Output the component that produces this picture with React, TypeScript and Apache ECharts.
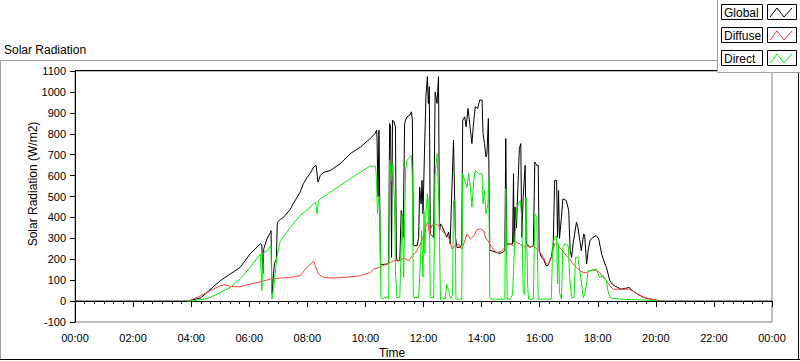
import React, { useEffect, useRef } from "react";
import * as echarts from "echarts";

// x values are minutes since midnight
const xTickLabels = ["00:00", "02:00", "04:00", "06:00", "08:00", "10:00", "12:00", "14:00", "16:00", "18:00", "20:00", "22:00", "00:00"];
const legendNames = ["Global", "Diffuse", "Direct"];

const globalTimes = [0, 232, 238, 259, 269, 279, 300, 310, 321, 341, 362, 383, 386, 388, 390, 397, 404, 405, 407, 412, 416, 418, 424, 431, 445, 451, 465, 472, 479, 486, 493, 498, 502, 507, 514, 528, 548, 569, 590, 610, 620, 623, 624, 626, 628, 630, 631, 635, 645, 648, 650, 652, 654, 656, 659, 662, 664, 666, 671, 674, 676, 678, 681, 683, 686, 692, 695, 697, 699, 700, 707, 710, 712, 715, 717, 719, 722, 725, 728, 730, 732, 734, 737, 741, 744, 748, 751, 753, 755, 758, 765, 768, 772, 775, 782, 786, 789, 796, 799, 801, 805, 808, 812, 817, 820, 824, 827, 832, 836, 841, 843, 846, 849, 851, 854, 857, 861, 871, 878, 885, 888, 890, 892, 899, 904, 906, 907, 909, 912, 916, 918, 921, 923, 926, 930, 932, 933, 940, 947, 950, 954, 957, 959, 964, 968, 973, 977, 984, 988, 991, 995, 997, 999, 1001, 1005, 1008, 1015, 1020, 1023, 1026, 1029, 1036, 1039, 1043, 1046, 1051, 1053, 1057, 1060, 1064, 1070, 1077, 1082, 1088, 1095, 1098, 1105, 1110, 1115, 1128, 1145, 1152, 1162, 1176, 1190, 1204, 1210, 1440];
const globalValues = [0, 0, 3, 15, 33, 55, 97, 113, 130, 161, 226, 274, 270, 130, 250, 300, 329, 337, 35, 180, 200, 377, 390, 401, 440, 466, 520, 562, 590, 610, 641, 649, 569, 601, 615, 625, 657, 705, 737, 777, 801, 817, 777, 500, 817, 400, 177, 175, 177, 180, 849, 833, 209, 865, 857, 833, 209, 193, 193, 433, 400, 305, 849, 865, 881, 889, 905, 865, 273, 265, 265, 305, 545, 465, 577, 417, 705, 977, 1073, 945, 1025, 321, 315, 305, 1000, 945, 1073, 337, 369, 360, 321, 305, 330, 274, 769, 305, 257, 257, 273, 865, 881, 833, 921, 817, 753, 865, 929, 921, 961, 961, 801, 753, 689, 700, 873, 241, 241, 232, 228, 235, 245, 777, 273, 273, 273, 609, 280, 450, 350, 600, 729, 753, 305, 500, 649, 300, 273, 257, 265, 665, 649, 649, 241, 209, 201, 170, 170, 209, 273, 577, 577, 305, 529, 300, 400, 489, 481, 433, 241, 209, 273, 377, 353, 289, 241, 321, 315, 177, 241, 289, 305, 313, 297, 225, 177, 161, 97, 81, 73, 57, 65, 49, 33, 17, 9, 3, 0, 0];

const diffuseTimes = [232, 238, 259, 279, 300, 310, 321, 341, 362, 383, 404, 424, 445, 465, 479, 493, 503, 514, 534, 569, 590, 610, 617, 628, 635, 645, 652, 659, 669, 679, 690, 697, 704, 710, 717, 724, 729, 732, 737, 744, 751, 758, 765, 772, 779, 786, 792, 799, 803, 810, 817, 824, 830, 837, 844, 849, 853, 857, 864, 871, 878, 885, 892, 899, 906, 912, 919, 926, 933, 940, 947, 954, 961, 968, 973, 977, 984, 991, 995, 1001, 1008, 1015, 1022, 1029, 1036, 1043, 1050, 1057, 1063, 1070, 1077, 1084, 1091, 1098, 1105, 1112, 1145, 1152, 1162, 1176, 1190, 1204, 1208];
const diffuseValues = [0, 3, 25, 49, 73, 78, 70, 68, 81, 92, 105, 110, 113, 121, 161, 190, 129, 113, 110, 116, 121, 137, 153, 161, 169, 177, 185, 193, 193, 206, 193, 217, 233, 257, 289, 353, 377, 321, 361, 369, 361, 337, 321, 305, 249, 265, 273, 249, 273, 321, 297, 313, 340, 345, 337, 297, 289, 273, 249, 233, 236, 249, 265, 273, 265, 281, 273, 257, 265, 257, 265, 249, 233, 209, 180, 172, 209, 273, 281, 257, 241, 217, 201, 177, 161, 145, 137, 137, 145, 149, 145, 137, 113, 97, 73, 57, 57, 49, 33, 17, 9, 3, 0];

const directTimes = [232, 238, 269, 279, 300, 321, 341, 362, 383, 386, 389, 397, 405, 407, 410, 417, 424, 445, 465, 486, 497, 500, 503, 507, 528, 548, 569, 590, 610, 621, 623, 625, 628, 630, 632, 634, 645, 648, 650, 654, 657, 660, 662, 665, 671, 674, 676, 678, 679, 683, 686, 692, 695, 697, 699, 710, 714, 716, 719, 721, 723, 725, 728, 730, 732, 734, 741, 744, 748, 752, 755, 758, 765, 768, 772, 776, 780, 782, 785, 787, 799, 801, 805, 810, 813, 817, 820, 824, 827, 834, 841, 843, 846, 849, 853, 855, 857, 861, 888, 890, 893, 899, 904, 906, 909, 912, 916, 920, 923, 926, 929, 932, 935, 937, 947, 950, 954, 957, 984, 987, 991, 995, 997, 999, 1001, 1005, 1008, 1012, 1019, 1022, 1026, 1031, 1034, 1039, 1045, 1050, 1053, 1057, 1060, 1067, 1077, 1084, 1091, 1098, 1101, 1105, 1110, 1128, 1160, 1200, 1203];
const directValues = [0, 0, 10, 17, 41, 65, 105, 161, 225, 49, 230, 241, 265, 9, 50, 209, 289, 353, 409, 449, 473, 418, 480, 489, 521, 553, 585, 617, 646, 644, 577, 420, 500, 417, 17, 10, 20, 10, 673, 577, 657, 465, 145, 17, 17, 274, 417, 209, 113, 625, 673, 689, 697, 577, 17, 17, 209, 337, 113, 433, 225, 417, 513, 369, 497, 17, 17, 600, 705, 450, 5, 17, 10, 80, 49, 10, 30, 481, 481, 9, 9, 609, 577, 545, 609, 545, 449, 577, 625, 609, 609, 465, 529, 417, 465, 577, 17, 9, 9, 537, 9, 9, 30, 145, 300, 433, 466, 481, 400, 49, 30, 497, 82, 9, 9, 418, 401, 9, 9, 273, 305, 313, 82, 273, 40, 9, 257, 273, 265, 113, 17, 17, 209, 209, 113, 17, 33, 81, 145, 145, 153, 113, 121, 97, 49, 17, 14, 9, 6, 3, 0];

const FONT = '"Liberation Sans", Arial, sans-serif';

function zip(t: number[], v: number[]) {
  return t.map((x, i) => [x, v[i]]);
}

function legendItem(label: string, y: number, color: string) {
  return [
    { type: "rect", z: 101, shape: { x: 721.5, y: y + 0.5, width: 41, height: 15 }, style: { fill: "#fff", stroke: "#000", lineWidth: 1 } },
    { type: "text", z: 102, x: 724, y: y + 8.5, style: { text: label, font: "12px " + FONT, fill: "#000", align: "left", verticalAlign: "middle" } },
    { type: "rect", z: 101, shape: { x: 767.5, y: y + 0.5, width: 29, height: 15 }, style: { fill: "#fff", stroke: "#000", lineWidth: 1 } },
    { type: "polyline", z: 102, shape: { points: [[770, y + 13], [777, y + 4], [784, y + 13], [792, y + 4]] }, style: { stroke: color, lineWidth: 1, fill: "none" } },
  ];
}

export default function App() {
  const ref = useRef<HTMLDivElement>(null);
  useEffect(() => {
    if (!ref.current) return;
    const chart = echarts.init(ref.current, null, { renderer: "svg" });
    const colors = ["#000000", "#ff3b3b", "#00ee00"];
    chart.setOption({
      animation: false,
      backgroundColor: "#ffffff",
      grid: { left: 75, right: 28, top: 71, bottom: 39, show: true, borderColor: "#808080", borderWidth: 1, backgroundColor: "#fff" },
      xAxis: {
        type: "value",
        min: 0,
        max: 1440,
        interval: 120,
        axisLine: { show: true, lineStyle: { color: "#000", width: 1 } },
        axisTick: { show: true, length: 6, lineStyle: { color: "#000" } },
        minorTick: { show: true, splitNumber: 6, length: 3, lineStyle: { color: "#000" } },
        splitLine: { show: false },
        axisLabel: {
          margin: 10,
          fontSize: 11,
          fontFamily: FONT,
          color: "#000",
          formatter: (v: number) => xTickLabels[Math.round(v / 120)],
        },
      },
      yAxis: {
        type: "value",
        min: -100,
        max: 1100,
        interval: 100,
        axisLine: { show: true, lineStyle: { color: "#000", width: 1 } },
        axisTick: { show: true, length: 5, lineStyle: { color: "#000" } },
        splitLine: { show: false },
        axisLabel: { margin: 9, fontSize: 11, fontFamily: FONT, color: "#000", formatter: (v: number) => String(v) },
      },
      series: [
        { name: legendNames[0], type: "line", data: zip(globalTimes, globalValues), showSymbol: false, lineStyle: { color: colors[0], width: 1 }, z: 2 },
        { name: legendNames[1], type: "line", data: zip(diffuseTimes, diffuseValues), showSymbol: false, lineStyle: { color: colors[1], width: 1 }, z: 3 },
        { name: legendNames[2], type: "line", data: zip(directTimes, directValues), showSymbol: false, lineStyle: { color: colors[2], width: 1 }, z: 4 },
      ],
      graphic: [
        { type: "line", z: 50, shape: { x1: 75, y1: 70.5, x2: 772, y2: 70.5 }, style: { stroke: "#000", lineWidth: 1 } },
        { type: "line", z: 50, shape: { x1: 0, y1: 60.5, x2: 717, y2: 60.5 }, style: { stroke: "#a0a0a0", lineWidth: 1 } },
        { type: "line", z: 50, shape: { x1: 0.5, y1: 60, x2: 0.5, y2: 360 }, style: { stroke: "#a0a0a0", lineWidth: 1 } },
        { type: "line", z: 50, shape: { x1: 0, y1: 359.5, x2: 800, y2: 359.5 }, style: { stroke: "#000", lineWidth: 1 } },
        { type: "line", z: 50, shape: { x1: 798.5, y1: 72, x2: 798.5, y2: 360 }, style: { stroke: "#000", lineWidth: 1 } },
        { type: "rect", z: 100, shape: { x: 717.5, y: -2, width: 90, height: 74.5 }, style: { fill: "#fff", stroke: "#a0a0a0", lineWidth: 1 } },
        ...legendItem(legendNames[0], 4, colors[0]),
        ...legendItem(legendNames[1], 27, colors[1]),
        ...legendItem(legendNames[2], 50, colors[2]),
        { type: "text", z: 60, x: 4, y: 50, style: { text: "Solar Radiation", font: "12px " + FONT, fill: "#000", align: "left", verticalAlign: "middle" } },
        { type: "text", z: 60, x: 33, y: 184, rotation: Math.PI / 2, style: { text: "Solar Radiation (W/m2)", font: "12px " + FONT, fill: "#000", align: "center", verticalAlign: "middle" } },
        { type: "text", z: 60, x: 392, y: 353, style: { text: "Time", font: "12px " + FONT, fill: "#000", align: "center", verticalAlign: "middle" } },
      ],
    });
    return () => chart.dispose();
  }, []);
  return <div ref={ref} style={{ position: "absolute", left: 0, top: 0, width: 800, height: 361 }} />;
}
